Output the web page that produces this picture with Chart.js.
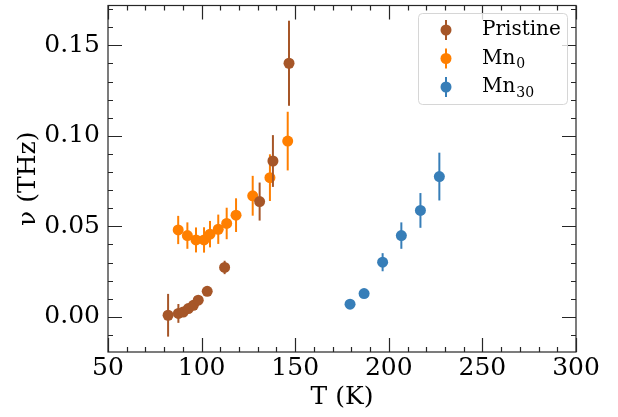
<!DOCTYPE html>
<html lang="en">
<head>
    <meta charset="UTF-8">
    <title>Frequency vs temperature</title>
    <style>
        body {
            margin: 0;
            background: #ffffff;
        }
        .chart-container {
            width: 618px;
            height: 417px;
        }
    </style>
</head>
<body>
    <div class="chart-container"><canvas id="freqChart"></canvas></div>

    <script src="https://cdn.jsdelivr.net/npm/chart.js"></script>
    <script>
        // series data: T (K), nu (THz), error (THz)
        const PRISTINE_T = [82.1, 87.6, 90.2, 92.9, 95.6, 98.2, 103.0, 112.3, 131.0, 138.1, 146.7];
        const PRISTINE_V = [0.0009, 0.0019, 0.0027, 0.0046, 0.0064, 0.0092, 0.0141, 0.0273, 0.0637, 0.0861, 0.1401];
        const PRISTINE_ERR = [0.0118, 0.0052, 0.0025, 0.0020, 0.0020, 0.0020, 0.0015, 0.0037, 0.0105, 0.0143, 0.0235];

        const MN0_T = [87.5, 92.4, 97.0, 101.3, 104.5, 108.9, 113.4, 118.4, 127.3, 136.5, 146.0];
        const MN0_V = [0.0480, 0.0449, 0.0425, 0.0425, 0.0457, 0.0484, 0.0516, 0.0562, 0.0669, 0.0769, 0.0971];
        const MN0_ERR = [0.0078, 0.0073, 0.0069, 0.0070, 0.0073, 0.0081, 0.0087, 0.0093, 0.0110, 0.0129, 0.0162];

        const MN30_T = [179.3, 186.8, 196.7, 206.7, 216.9, 227.0];
        const MN30_V = [0.0070, 0.0129, 0.0302, 0.0449, 0.0588, 0.0775];
        const MN30_ERR = [0.0015, 0.0020, 0.0050, 0.0073, 0.0096, 0.0132];

        const SERIES_NAMES = ['Pristine', 'Mn', 'Mn'];
        const SERIES_SUBS = ['', '0', '30'];
        const SERIES_COLORS = ['#a65628', '#ff7f00', '#377eb8'];

        // axis ticks
        const X_TICKS = [50, 100, 150, 200, 250, 300];
        const X_MINOR = [60, 70, 80, 90, 110, 120, 130, 140, 160, 170, 180, 190, 210, 220, 230, 240, 260, 270, 280, 290];
        const Y_TICKS = [0.00, 0.05, 0.10, 0.15];
        const Y_MINOR = [-0.01, 0.01, 0.02, 0.03, 0.04, 0.06, 0.07, 0.08, 0.09, 0.11, 0.12, 0.13, 0.14, 0.16, 0.17];

        const FONT = "'DejaVu Serif', serif";
        const AXIS_COLOR = '#262626';

        function toPoints(xs, ys, errs) {
            return xs.map((x, i) => ({ x: x, y: ys[i], err: errs[i] }));
        }

        // vertical error bars, drawn just before each dataset's points
        const errorBars = {
            id: 'errorBars',
            beforeDatasetDraw(chart, args) {
                const ctx = chart.ctx;
                const xs = chart.scales.x, ys = chart.scales.y;
                const ds = chart.data.datasets[args.index];
                ctx.save();
                ctx.strokeStyle = ds.backgroundColor;
                ctx.lineWidth = 2;
                ds.data.forEach(p => {
                    const px = xs.getPixelForValue(p.x);
                    ctx.beginPath();
                    ctx.moveTo(px, ys.getPixelForValue(p.y - p.err));
                    ctx.lineTo(px, ys.getPixelForValue(p.y + p.err));
                    ctx.stroke();
                });
                ctx.restore();
            }
        };

        // frame + inward ticks on all four sides, then the legend box
        const frameAndLegend = {
            id: 'frameAndLegend',
            afterDraw(chart) {
                const ctx = chart.ctx;
                const a = chart.chartArea;
                const xs = chart.scales.x, ys = chart.scales.y;
                ctx.save();
                ctx.strokeStyle = AXIS_COLOR;
                ctx.lineWidth = 1.2;
                ctx.strokeRect(a.left, a.top, a.right - a.left, a.bottom - a.top);

                const xTick = (v, len) => {
                    const px = Math.round(xs.getPixelForValue(v)) + 0.5;
                    ctx.beginPath();
                    ctx.moveTo(px, a.bottom); ctx.lineTo(px, a.bottom - len);
                    ctx.moveTo(px, a.top); ctx.lineTo(px, a.top + len);
                    ctx.stroke();
                };
                const yTick = (v, len) => {
                    const py = Math.round(ys.getPixelForValue(v)) + 0.5;
                    ctx.beginPath();
                    ctx.moveTo(a.left, py); ctx.lineTo(a.left + len, py);
                    ctx.moveTo(a.right, py); ctx.lineTo(a.right - len, py);
                    ctx.stroke();
                };
                X_TICKS.forEach(v => xTick(v, 14));
                X_MINOR.forEach(v => xTick(v, 5));
                Y_TICKS.forEach(v => yTick(v, 14));
                Y_MINOR.forEach(v => yTick(v, 5));

                // legend
                const bx = 418, by = 13, bw = 149, bh = 91;
                ctx.beginPath();
                ctx.roundRect(bx + 0.5, by + 0.5, bw, bh, 4);
                ctx.fillStyle = 'rgba(255,255,255,0.8)';
                ctx.fill();
                ctx.strokeStyle = '#d6d6d6';
                ctx.lineWidth = 1;
                ctx.stroke();

                const rows = [30, 58.5, 87];
                chart.data.datasets.forEach((ds, i) => {
                    const cy = rows[i];
                    ctx.strokeStyle = ds.backgroundColor;
                    ctx.lineWidth = 2;
                    ctx.beginPath();
                    ctx.moveTo(446, cy - 10); ctx.lineTo(446, cy + 10);
                    ctx.stroke();
                    ctx.fillStyle = ds.backgroundColor;
                    ctx.beginPath();
                    ctx.arc(446, cy, 5.5, 0, Math.PI * 2);
                    ctx.fill();

                    ctx.fillStyle = '#000';
                    ctx.textBaseline = 'middle';
                    ctx.textAlign = 'left';
                    ctx.font = '20px ' + FONT;
                    ctx.fillText(SERIES_NAMES[i], 482, cy);
                    if (SERIES_SUBS[i]) {
                        const w = ctx.measureText(SERIES_NAMES[i]).width;
                        ctx.font = '14px ' + FONT;
                        ctx.fillText(SERIES_SUBS[i], 482 + w + 1, cy + 6);
                    }
                });
                ctx.restore();
            }
        };

        const ctx = document.getElementById('freqChart').getContext('2d');
        new Chart(ctx, {
            type: 'scatter',
            data: {
                datasets: [
                    { label: 'Pristine', data: toPoints(PRISTINE_T, PRISTINE_V, PRISTINE_ERR), backgroundColor: SERIES_COLORS[0] },
                    { label: 'Mn0', data: toPoints(MN0_T, MN0_V, MN0_ERR), backgroundColor: SERIES_COLORS[1] },
                    { label: 'Mn30', data: toPoints(MN30_T, MN30_V, MN30_ERR), backgroundColor: SERIES_COLORS[2] }
                ]
            },
            options: {
                responsive: true,
                maintainAspectRatio: false,
                animation: false,
                events: [],
                layout: { padding: { left: 0, top: 4, right: 42, bottom: 0 } },
                elements: {
                    point: { radius: 5.5, borderWidth: 0, hoverRadius: 5.5 }
                },
                plugins: {
                    legend: { display: false },
                    tooltip: { enabled: false }
                },
                scales: {
                    x: {
                        type: 'linear',
                        min: 50,
                        max: 300,
                        afterBuildTicks: scale => { scale.ticks = X_TICKS.map(v => ({ value: v })); },
                        afterFit: scale => { scale.height = 65; scale.paddingLeft = 0; scale.paddingRight = 0; },
                        grid: { display: false, drawTicks: false },
                        border: { display: false },
                        ticks: {
                            color: '#000',
                            padding: 1,
                            maxRotation: 0,
                            font: { family: FONT, size: 25 }
                        },
                        title: {
                            display: true,
                            text: 'T (K)',
                            color: '#000',
                            padding: { top: 0, bottom: 5 },
                            font: { family: FONT, size: 25 }
                        }
                    },
                    y: {
                        type: 'linear',
                        min: -0.0194,
                        max: 0.172,
                        afterBuildTicks: scale => { scale.ticks = Y_TICKS.map(v => ({ value: v })); },
                        afterFit: scale => { scale.width = 108; scale.paddingTop = 0; scale.paddingBottom = 0; },
                        grid: { display: false, drawTicks: false },
                        border: { display: false },
                        ticks: {
                            color: '#000',
                            padding: 8,
                            font: { family: FONT, size: 25 },
                            callback: v => v.toFixed(2)
                        },
                        title: {
                            display: true,
                            text: 'ν (THz)',
                            color: '#000',
                            padding: { top: 13, bottom: 0 },
                            font: { family: FONT, size: 25 }
                        }
                    }
                }
            },
            plugins: [errorBars, frameAndLegend]
        });
    </script>
</body>
</html>
